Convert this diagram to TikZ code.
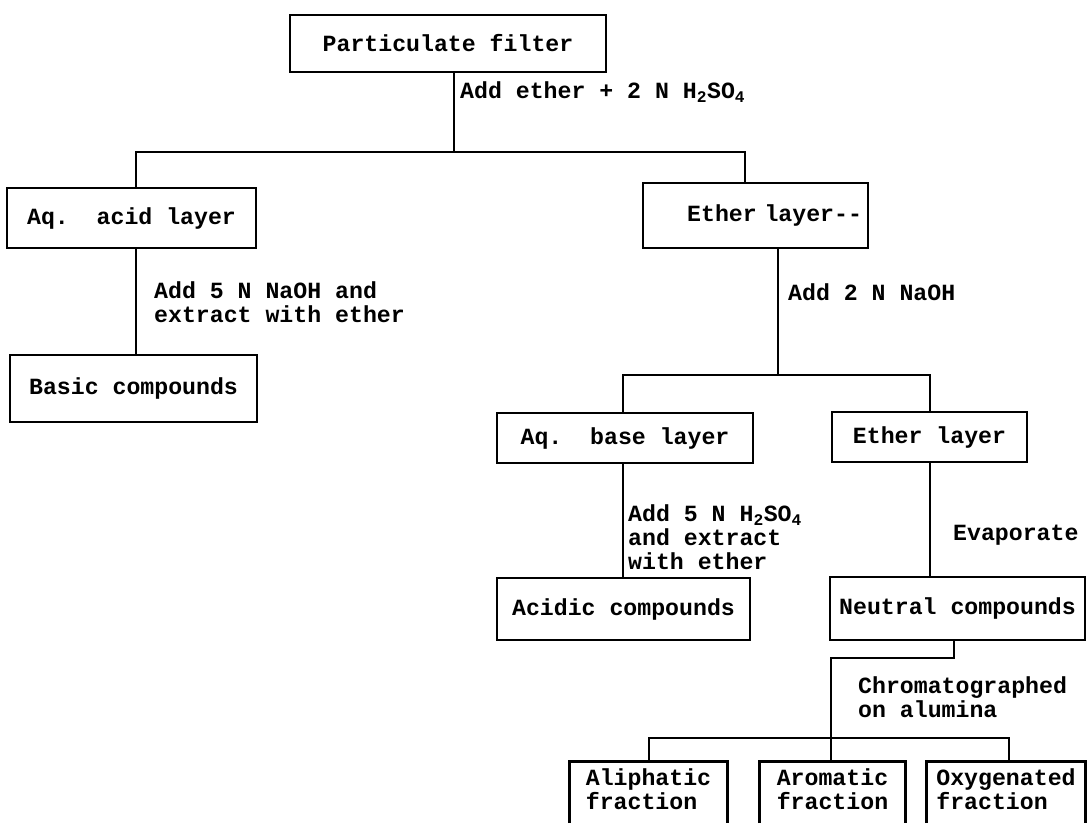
\documentclass[tikz,border=0pt]{standalone}
\usepackage{fontspec}
\newfontfamily\tw{Liberation Mono}
\frenchspacing
\tikzset{
  txt/.style={font=\tw\bfseries\fontsize{23.2}{24}\selectfont},
  box/.style={txt, draw, line width=2.8pt, inner sep=0pt},
  openbox/.style={txt, inner sep=0pt, align=left},
  lbl/.style={txt, anchor=west, align=left, inner sep=0pt},
  conn/.style={line width=2.6pt}
}
\begin{document}
\begin{tikzpicture}[x=1pt,y=-1pt]
\useasboundingbox[fill=white] (0,0) rectangle (1088,823);
% boxes
\node[box, minimum width=316pt, minimum height=57pt] (P) at (448,43.5) {Particulate filter};
\node[box, minimum width=249pt, minimum height=60pt] (acid) at (131.5,218) {Aq.\ \ acid layer};
\node[box, text width=213pt, inner xsep=6pt, align=right, minimum height=65pt] (ether1) at (755.5,215.5) {Ether layer-{}-};
\node[box, minimum width=247pt, minimum height=67pt] (basic) at (133.5,388.5) {Basic compounds};
\node[box, minimum width=256pt, minimum height=50pt] (base) at (625,438) {Aq.\ \ base layer};
\node[box, minimum width=195pt, minimum height=50pt] (ether2) at (929.5,437) {Ether layer};
\node[box, minimum width=253pt, minimum height=62pt] (acidic) at (623.5,609) {Acidic compounds};
\node[box, minimum width=255pt, minimum height=63pt] (neutral) at (957.5,608.5) {Neutral compounds};
\node[openbox, minimum width=157pt, minimum height=54pt] (aliph) at (648.5,789) {Aliphatic\\fraction};
\node[openbox, minimum width=145pt, minimum height=54pt] (arom) at (832.5,789) {Aromatic\\fraction};
\node[openbox, minimum width=158pt, minimum height=54pt] (oxy) at (1006,789) {Oxygenated\\fraction};
\coordinate (bot) at (0,823);
\foreach \b in {aliph,arom,oxy}{
  \draw[line width=2.8pt] (\b.west |- bot) -- (\b.north west) -- (\b.north east) -- (\b.east |- bot);
}
% junction points
\coordinate (j1) at (454,152);
\coordinate (j1L) at (136,152);
\coordinate (j1R) at (745,152);
\coordinate (s2) at (136,300);
\coordinate (j2) at (778,375);
\coordinate (j2L) at (623,375);
\coordinate (j2R) at (930,375);
\coordinate (k1) at (954,658);
\coordinate (k2) at (831,658);
\coordinate (j3L) at (649,738);
\coordinate (j3R) at (1009,738);
% connectors
\draw[conn] (P.south -| j1) -- (j1);
\draw[conn] (acid.north -| j1L) -- (j1L) -- (j1R) -- (ether1.north -| j1R);
\draw[conn] (acid.south -| s2) -- (basic.north -| s2);
\draw[conn] (ether1.south -| j2) -- (j2);
\draw[conn] (base.north -| j2L) -- (j2L) -- (j2R) -- (ether2.north -| j2R);
\draw[conn] (base.south -| j2L) -- (acidic.north -| j2L);
\draw[conn] (ether2.south -| j2R) -- (neutral.north -| j2R);
\draw[conn] (neutral.south -| k1) -- (k1) -- (k2) -- (arom.north -| k2);
\draw[conn] (aliph.north -| j3L) -- (j3L) -- (j3R) -- (oxy.north -| j3R);
% labels
\node[lbl] (l1) at (460,92) {Add ether + 2 N H\textsubscript{2}SO\textsubscript{4}};
\node[lbl] (l2) at (154,302) {Add 5 N NaOH and\\extract with ether};
\node[lbl] (l3) at (788,292) {Add 2 N NaOH};
\node[lbl] (l4) at (628,537) {Add 5 N H\textsubscript{2}SO\textsubscript{4}\\and extract\\with ether};
\node[lbl] (l5) at (953,535) {Evaporate};
\node[lbl] (l6) at (858,697) {Chromatographed\\on alumina};
\end{tikzpicture}
\end{document}
